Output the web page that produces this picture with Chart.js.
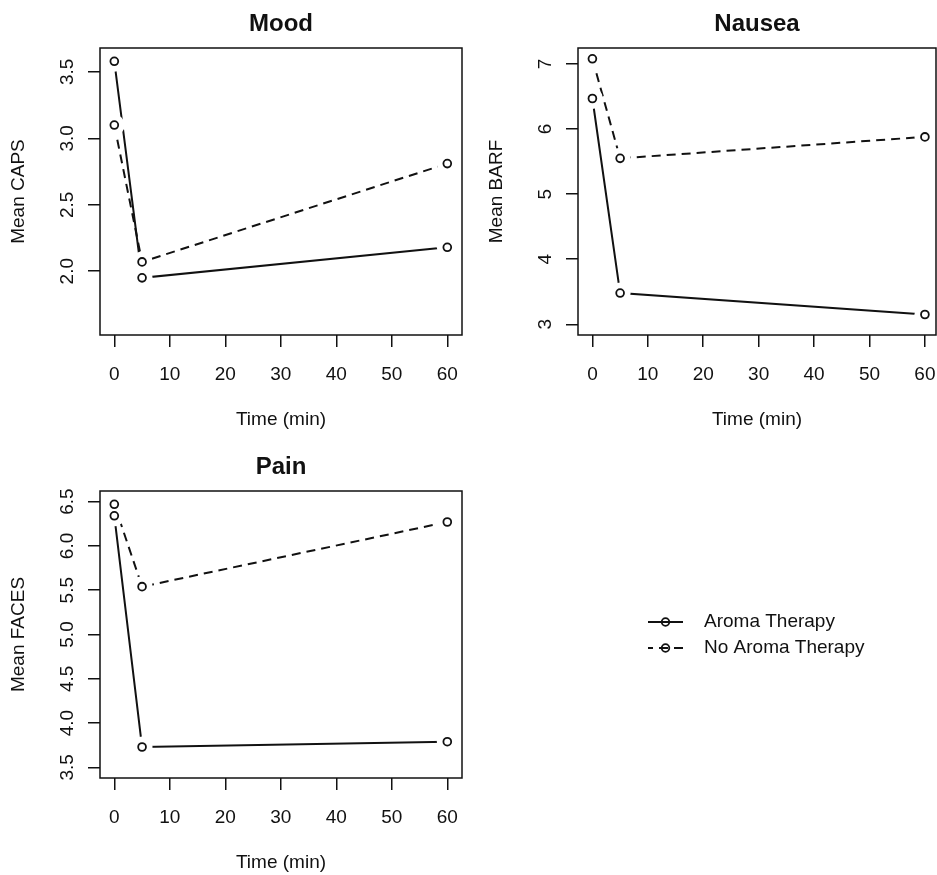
<!DOCTYPE html>
<html>
<head>
<meta charset="utf-8">
<title>Aroma therapy</title>
<script src="https://cdn.jsdelivr.net/npm/chart.js@4.4.1/dist/chart.umd.min.js"></script>
<style>
html, body { margin: 0; padding: 0; background: #fff; overflow: hidden; }
#wrap { position: relative; width: 937px; height: 875px; }
canvas { position: absolute; }
</style>
</head>
<body>
<div id="wrap">
	<canvas id="mood" width="468" height="437" style="left:0;top:0"></canvas>
	<canvas id="nausea" width="459" height="437" style="left:478px;top:0"></canvas>
	<canvas id="pain" width="937" height="437" style="left:0;top:443px"></canvas>
</div>
<script>
var times = [0, 5, 60];
var seriesNames = ['Aroma Therapy', 'No Aroma Therapy'];

var moodAroma = [3.58, 1.95, 2.18];
var moodNoAroma = [3.10, 2.07, 2.81];
var nauseaAroma = [6.47, 3.48, 3.15];
var nauseaNoAroma = [7.08, 5.55, 5.88];
var painAroma = [6.34, 3.73, 3.79];
var painNoAroma = [6.47, 5.54, 6.27];

var xTicks = [0, 10, 20, 30, 40, 50, 60];
var moodYTicks = [2.0, 2.5, 3.0, 3.5];
var nauseaYTicks = [3, 4, 5, 6, 7];
var painYTicks = [3.5, 4.0, 4.5, 5.0, 5.5, 6.0, 6.5];

var FONT = '"Liberation Sans", Arial, Helvetica, sans-serif';
var INK = '#111';
var dashes = [[], [9, 6]];

Chart.defaults.font.family = FONT;
Chart.defaults.color = INK;

function pts(vals) {
	return times.map(function(t, i) {
		return { x: t, y: vals[i] };
	});
}

// R style: box round the plot, y tick labels turned along the axis
function boxPlugin(yTicks, digits) {
	return {
		id: 'rBox',
		afterDraw: function(chart) {
			var ctx = chart.ctx, a = chart.chartArea, y = chart.scales.y;
			ctx.save();
			ctx.font = '19px ' + FONT;
			ctx.fillStyle = INK;
			ctx.textAlign = 'center';
			ctx.textBaseline = 'middle';
			yTicks.forEach(function(v) {
				ctx.save();
				ctx.translate(a.left - 32.5, y.getPixelForValue(v));
				ctx.rotate(-Math.PI / 2);
				ctx.fillText(v.toFixed(digits), 0, 0);
				ctx.restore();
			});
			ctx.strokeStyle = INK;
			ctx.lineWidth = 1.5;
			ctx.strokeRect(a.left, a.top, a.right - a.left, a.bottom - a.top);
			ctx.restore();
		}
	};
}

var legendPlugin = {
	id: 'rLegend',
	afterDraw: function(chart) {
		var ctx = chart.ctx;
		var lx = 648, lw = 35, tx = 704, ly = 179, step = 26;
		ctx.save();
		seriesNames.forEach(function(name, k) {
			var yy = ly + k * step;
			ctx.strokeStyle = INK;
			ctx.lineWidth = 1.8;
			ctx.setLineDash(dashes[k]);
			ctx.lineDashOffset = 4;
			ctx.beginPath();
			ctx.moveTo(lx, yy);
			ctx.lineTo(lx + lw, yy);
			ctx.stroke();
			ctx.setLineDash([]);
			ctx.beginPath();
			ctx.arc(lx + lw / 2, yy, 3.8, 0, 2 * Math.PI);
			ctx.stroke();
			ctx.fillStyle = INK;
			ctx.font = '19px ' + FONT;
			ctx.textAlign = 'left';
			ctx.textBaseline = 'middle';
			ctx.fillText(name, tx, yy);
		});
		ctx.restore();
	}
};

function noPad(s) {
	s.paddingLeft = 0;
	s.paddingRight = 0;
	s.paddingTop = 0;
	s.paddingBottom = 0;
}

function makePanel(id, title, yTitle, aroma, noAroma, yTicks, digits, yMin, yMax, xMin, xMax, padRight, extra) {
	var ds = [];
	[aroma, noAroma].forEach(function(vals, k) {
		// line, then a white gap round each point, then the open circle
		ds.push({ label: seriesNames[k], data: pts(vals), borderColor: INK, borderWidth: 2,
			borderDash: dashes[k], pointRadius: 0, fill: false, tension: 0, order: 3 });
		ds.push({ data: pts(vals), showLine: false, pointRadius: 10.5, pointBorderWidth: 0,
			pointBorderColor: 'rgba(0,0,0,0)', pointBackgroundColor: '#fff', order: 2 });
		ds.push({ data: pts(vals), showLine: false, pointRadius: 3.9, pointBorderWidth: 1.8,
			pointBorderColor: INK, pointBackgroundColor: 'rgba(0,0,0,0)', order: 1 });
	});
	var plugins = [boxPlugin(yTicks, digits)];
	if (extra) plugins.push(extra);
	var grid = { drawOnChartArea: false, drawTicks: true, tickLength: 12, color: INK, lineWidth: 1.5 };
	return new Chart(document.getElementById(id), {
		type: 'line',
		data: { datasets: ds },
		plugins: plugins,
		options: {
			responsive: false,
			animation: false,
			devicePixelRatio: 1,
			events: [],
			layout: { autoPadding: false, padding: { left: 0, top: 0, right: padRight, bottom: 0 } },
			plugins: {
				legend: { display: false },
				tooltip: { enabled: false },
				title: { display: true, text: title, fullSize: false, color: INK,
					font: { size: 24, weight: 'bold' }, padding: { top: 9.6, bottom: 9.6 } }
			},
			scales: {
				x: {
					type: 'linear', min: xMin, max: xMax,
					afterBuildTicks: function(s) {
						s.ticks = xTicks.map(function(v) { return { value: v }; });
					},
					afterFit: function(s) { s.height = 102; noPad(s); },
					grid: grid,
					border: { display: false },
					ticks: { font: { size: 19 }, color: INK, padding: 16, maxRotation: 0, autoSkip: false },
					title: { display: true, text: 'Time (min)', color: INK, font: { size: 19 },
						padding: { top: 0, bottom: 5.6 } }
				},
				y: {
					type: 'linear', min: yMin, max: yMax,
					afterBuildTicks: function(s) {
						s.ticks = yTicks.map(function(v) { return { value: v }; });
					},
					afterFit: function(s) { s.width = 100; noPad(s); },
					grid: grid,
					border: { display: false },
					ticks: { display: false },
					title: { display: true, text: yTitle, color: INK, font: { size: 19 },
						padding: { top: 7, bottom: 0 } }
				}
			}
		}
	});
}

makePanel('mood', 'Mood', 'Mean CAPS', moodAroma, moodNoAroma, moodYTicks, 1,
	1.52, 3.68, -2.58, 62.65, 6);
makePanel('nausea', 'Nausea', 'Mean BARF', nauseaAroma, nauseaNoAroma, nauseaYTicks, 0,
	2.835, 7.246, -2.6, 62.0, 1);
makePanel('pain', 'Pain', 'Mean FACES', painAroma, painNoAroma, painYTicks, 1,
	3.38, 6.62, -2.58, 62.65, 475, legendPlugin);
</script>
</body>
</html>
